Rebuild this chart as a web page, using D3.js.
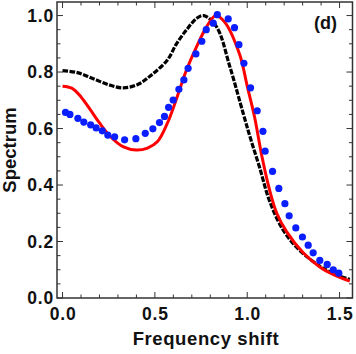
<!DOCTYPE html>
<html>
<head>
<meta charset="utf-8">
<script src="https://cdn.jsdelivr.net/npm/d3@7"></script>
<style>
body { margin: 0; background: #fff; }
text { font-family: "Liberation Sans", Arial, sans-serif; font-weight: bold; }
</style>
</head>
<body>
<div id="canvas" style="width:356px;height:354px"></div>
<script>
var canvasWidth = 356,
    canvasHeight = 354;

var margin = {t:2, r:3.5, b:56, l:57};
var plotWidth = canvasWidth - margin.l - margin.r,
    plotHeight = canvasHeight - margin.t - margin.b;

// black dash-dot curve
var blackX = [0.0, 0.08, 0.16, 0.25, 0.33, 0.41, 0.48, 0.567, 0.617, 0.671, 0.726, 0.765, 0.834, 0.906, 0.978, 1.02, 1.068, 1.12, 1.195, 1.285, 1.393, 1.47, 1.555];
var blackY = [0.805, 0.798, 0.778, 0.755, 0.744, 0.757, 0.789, 0.842, 0.90, 0.949, 0.99, 1.0, 0.96, 0.819, 0.654, 0.56, 0.46, 0.345, 0.24, 0.168, 0.113, 0.086, 0.066];

// red solid curve
var redX = [0.0, 0.05, 0.10, 0.152, 0.20, 0.26, 0.33, 0.40, 0.46, 0.513, 0.567, 0.621, 0.671, 0.726, 0.78, 0.83, 0.88, 0.96, 1.0, 1.04, 1.08, 1.12, 1.16, 1.213, 1.303, 1.393, 1.47, 1.555];
var redY = [0.75, 0.743, 0.712, 0.665, 0.62, 0.571, 0.535, 0.524, 0.531, 0.553, 0.618, 0.713, 0.807, 0.89, 0.96, 1.0, 0.975, 0.86, 0.75, 0.64, 0.50, 0.385, 0.30, 0.235, 0.16, 0.11, 0.082, 0.06];

// blue dots
var dotX = [0.016, 0.04, 0.083, 0.115, 0.152, 0.182, 0.215, 0.245, 0.282, 0.336, 0.397, 0.448, 0.489, 0.525, 0.552, 0.574, 0.599, 0.630, 0.657, 0.680, 0.722, 0.754, 0.778, 0.816, 0.838, 0.897, 0.931, 0.955, 0.982, 1.018, 1.054, 1.085, 1.097, 1.137, 1.171, 1.204, 1.227, 1.263, 1.299, 1.330, 1.357, 1.393, 1.433, 1.466, 1.496];
var dotY = [0.657, 0.650, 0.636, 0.623, 0.613, 0.602, 0.592, 0.577, 0.571, 0.560, 0.564, 0.583, 0.599, 0.621, 0.643, 0.675, 0.701, 0.739, 0.772, 0.813, 0.864, 0.909, 0.950, 0.973, 1.003, 0.988, 0.957, 0.897, 0.831, 0.744, 0.663, 0.590, 0.520, 0.448, 0.388, 0.334, 0.291, 0.248, 0.216, 0.187, 0.160, 0.133, 0.119, 0.100, 0.088];

var xTicks = [0.0, 0.5, 1.0, 1.5];
var yTicks = [0.0, 0.2, 0.4, 0.6, 0.8, 1.0];

var svg = d3.select('#canvas')
	.append('svg')
	.attr('width', canvasWidth)
	.attr('height', canvasHeight);

var plot = svg.append('g')
	.attr('transform', 'translate('+margin.l+','+margin.t+')');

var x = d3.scaleLinear().domain([-0.03, 1.57]).range([0, plotWidth]);
var y = d3.scaleLinear().domain([0, 1.048]).range([plotHeight, 0]);

var frameColor = '#333';

// minor + major ticks on all four sides, pointing inward
var xMinor = d3.range(0, 1.56, 0.1);
var yMinor = d3.range(0, 1.01, 0.05);

function isMajor(v, list){ return list.some(function(t){ return Math.abs(t - v) < 1e-6; }); }

var ticks = plot.append('g').attr('stroke', frameColor).attr('stroke-width', 1);
xMinor.forEach(function(v){
    var len = isMajor(v, xTicks) ? 6 : 3.5;
    ticks.append('line').attr('x1', x(v)).attr('x2', x(v)).attr('y1', plotHeight).attr('y2', plotHeight - len);
    ticks.append('line').attr('x1', x(v)).attr('x2', x(v)).attr('y1', 0).attr('y2', len);
});
yMinor.forEach(function(v){
    var len = isMajor(v, yTicks) ? 6 : 3.5;
    ticks.append('line').attr('x1', 0).attr('x2', len).attr('y1', y(v)).attr('y2', y(v));
    ticks.append('line').attr('x1', plotWidth).attr('x2', plotWidth - len).attr('y1', y(v)).attr('y2', y(v));
});

plot.append('rect')
	.attr('width', plotWidth)
	.attr('height', plotHeight)
	.style('fill', 'none')
	.style('stroke', frameColor)
	.style('stroke-width', 1.5);

// tick labels
plot.selectAll('.xlab').data(xTicks).enter().append('text')
	.attr('x', function(d){ return x(d) + 0.5; })
	.attr('y', plotHeight + 22)
	.attr('text-anchor', 'middle')
	.style('font-size', '17.5px')
	.style('letter-spacing', '0.8px')
	.style('fill', '#111')
	.text(function(d){ return d.toFixed(1); });

plot.selectAll('.ylab').data(yTicks).enter().append('text')
	.attr('x', -3)
	.attr('y', function(d){ return y(d) + 6; })
	.attr('text-anchor', 'end')
	.style('font-size', '17.5px')
	.style('letter-spacing', '0.8px')
	.style('fill', '#111')
	.text(function(d){ return d.toFixed(1); });

// curves
var line = d3.line().curve(d3.curveCatmullRom.alpha(0.5))
	.x(function(d){ return x(d[0]); })
	.y(function(d){ return y(d[1]); });

plot.append('path')
	.datum(d3.zip(blackX, blackY))
	.attr('d', line)
	.style('fill', 'none')
	.style('stroke', '#000')
	.style('stroke-width', 3.2)
	.style('stroke-dasharray', '5.5,1.5');

plot.append('path')
	.datum(d3.zip(redX, redY))
	.attr('d', line)
	.style('fill', 'none')
	.style('stroke', '#ff0000')
	.style('stroke-width', 3);

plot.selectAll('.dot').data(d3.zip(dotX, dotY)).enter().append('circle')
	.attr('cx', function(d){ return x(d[0]); })
	.attr('cy', function(d){ return y(d[1]); })
	.attr('r', 3.6)
	.style('fill', '#0a1eff');

// titles
svg.append('text')
	.attr('x', 206)
	.attr('y', 345)
	.attr('text-anchor', 'middle')
	.style('font-size', '18.5px')
	.style('letter-spacing', '0.6px')
	.style('fill', '#111')
	.text('Frequency shift');

svg.append('text')
	.attr('transform', 'translate(16,150) rotate(-90)')
	.attr('text-anchor', 'middle')
	.style('font-size', '18.5px')
	.style('fill', '#111')
	.text('Spectrum');

svg.append('text')
	.attr('x', 337)
	.attr('y', 29)
	.attr('text-anchor', 'end')
	.style('font-size', '18px')
	.style('fill', '#111')
	.text('(d)');
</script>
</body>
</html>
